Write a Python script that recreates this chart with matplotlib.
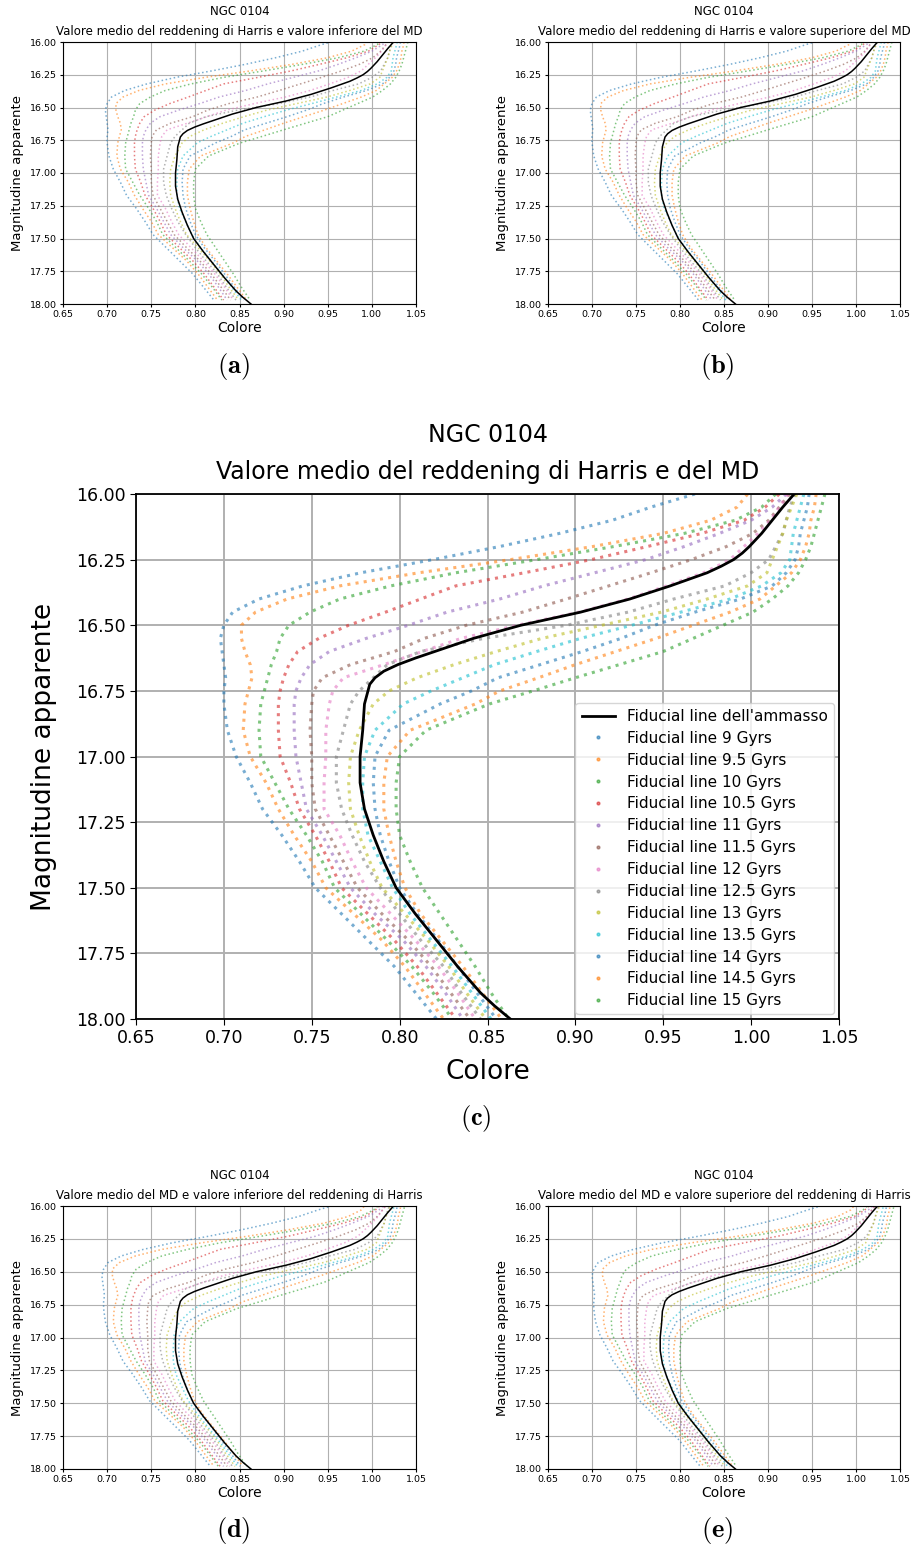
import matplotlib
matplotlib.use("Agg")
import matplotlib.pyplot as plt
from matplotlib.lines import Line2D
import numpy as np

# apparent magnitude grid
mag = [16.00, 16.05, 16.10, 16.15, 16.20, 16.25, 16.30, 16.35, 16.40, 16.45,
       16.50, 16.55, 16.60, 16.65, 16.70, 16.75, 16.80, 16.90, 17.00, 17.10,
       17.20, 17.30, 17.40, 17.50, 17.60, 17.70, 17.80, 17.90, 18.00]

ages = ["9", "9.5", "10", "10.5", "11", "11.5", "12", "12.5", "13", "13.5", "14", "14.5", "15"]

col_9 = [0.968, 0.943, 0.921, 0.891, 0.857, 0.819, 0.778, 0.745, 0.720, 0.705, 0.700, 0.698, 0.699, 0.700, 0.701,
         0.700, 0.700, 0.702, 0.707, 0.715, 0.722, 0.733, 0.743, 0.752, 0.767, 0.782, 0.797, 0.809, 0.821]
col_9_5 = [0.998, 0.992, 0.977, 0.950, 0.910, 0.863, 0.811, 0.766, 0.736, 0.718, 0.710, 0.710, 0.712, 0.715, 0.716,
           0.714, 0.712, 0.711, 0.715, 0.724, 0.731, 0.740, 0.750, 0.758, 0.774, 0.790, 0.803, 0.814, 0.825]
col_10 = [1.014, 1.006, 0.991, 0.962, 0.922, 0.878, 0.832, 0.795, 0.766, 0.749, 0.737, 0.732, 0.730, 0.727, 0.725,
          0.723, 0.721, 0.720, 0.721, 0.729, 0.737, 0.747, 0.756, 0.763, 0.778, 0.793, 0.807, 0.819, 0.830]
col_10_5 = [1.016, 1.008, 0.996, 0.972, 0.941, 0.909, 0.871, 0.832, 0.812, 0.792, 0.771, 0.754, 0.742, 0.737, 0.734,
            0.732, 0.731, 0.731, 0.732, 0.738, 0.743, 0.752, 0.760, 0.767, 0.782, 0.797, 0.810, 0.821, 0.832]
col_11 = [1.020, 1.012, 1.000, 0.982, 0.962, 0.940, 0.911, 0.882, 0.857, 0.827, 0.805, 0.781, 0.760, 0.749, 0.744,
          0.741, 0.740, 0.740, 0.741, 0.744, 0.747, 0.756, 0.764, 0.772, 0.786, 0.802, 0.815, 0.826, 0.836]
col_11_5 = [1.022, 1.016, 1.010, 1.001, 0.986, 0.966, 0.943, 0.919, 0.895, 0.870, 0.838, 0.814, 0.797, 0.772, 0.756,
            0.751, 0.750, 0.749, 0.750, 0.750, 0.752, 0.760, 0.768, 0.776, 0.790, 0.805, 0.818, 0.829, 0.840]
col_12 = [1.021, 1.016, 1.011, 1.004, 0.996, 0.988, 0.973, 0.952, 0.930, 0.902, 0.867, 0.835, 0.813, 0.791, 0.768,
          0.762, 0.760, 0.758, 0.758, 0.757, 0.757, 0.766, 0.773, 0.781, 0.795, 0.809, 0.822, 0.833, 0.843]
col_12_5 = [1.025, 1.022, 1.020, 1.018, 1.014, 1.010, 1.000, 0.985, 0.956, 0.930, 0.895, 0.848, 0.812, 0.793, 0.785,
            0.777, 0.772, 0.768, 0.764, 0.764, 0.767, 0.773, 0.780, 0.789, 0.800, 0.812, 0.825, 0.835, 0.846]
col_13 = [1.026, 1.023, 1.020, 1.018, 1.015, 1.012, 1.009, 0.998, 0.975, 0.949, 0.915, 0.881, 0.855, 0.831, 0.810,
          0.794, 0.785, 0.777, 0.772, 0.771, 0.772, 0.777, 0.783, 0.790, 0.803, 0.816, 0.828, 0.838, 0.849]
col_13_5 = [1.030, 1.028, 1.026, 1.024, 1.023, 1.022, 1.017, 1.006, 0.988, 0.960, 0.932, 0.903, 0.878, 0.854, 0.836,
            0.818, 0.802, 0.786, 0.780, 0.779, 0.779, 0.782, 0.789, 0.796, 0.806, 0.818, 0.830, 0.841, 0.852]
col_14 = [1.033, 1.032, 1.030, 1.028, 1.027, 1.025, 1.020, 1.012, 0.994, 0.968, 0.945, 0.926, 0.904, 0.880, 0.856,
          0.841, 0.823, 0.794, 0.786, 0.785, 0.786, 0.789, 0.794, 0.800, 0.810, 0.822, 0.833, 0.844, 0.855]
col_14_5 = [1.037, 1.036, 1.034, 1.033, 1.031, 1.028, 1.023, 1.014, 1.005, 0.988, 0.967, 0.946, 0.923, 0.900, 0.879,
            0.857, 0.843, 0.806, 0.793, 0.791, 0.791, 0.794, 0.798, 0.803, 0.812, 0.824, 0.836, 0.847, 0.858]
col_15 = [1.042, 1.040, 1.038, 1.036, 1.034, 1.031, 1.027, 1.021, 1.012, 1.001, 0.984, 0.967, 0.950, 0.925, 0.900,
          0.876, 0.851, 0.815, 0.800, 0.798, 0.798, 0.800, 0.806, 0.813, 0.823, 0.833, 0.843, 0.852, 0.862]

# observed cluster fiducial line (denser sampling)
fid_mag = [16.00, 16.05, 16.10, 16.15, 16.20, 16.225, 16.25, 16.275, 16.30, 16.35, 16.40, 16.45, 16.50, 16.55,
           16.60, 16.625, 16.65, 16.675, 16.70, 16.725, 16.75, 16.80, 16.90, 17.00, 17.10, 17.20, 17.30, 17.40,
           17.50, 17.60, 17.70, 17.80, 17.90, 17.95, 18.00]
fid_col = [1.0245, 1.018, 1.012, 1.006, 0.999, 0.995, 0.990, 0.983, 0.975, 0.954, 0.931, 0.903, 0.869, 0.842,
           0.820, 0.809, 0.799, 0.791, 0.786, 0.783, 0.782, 0.780, 0.779, 0.7775, 0.7775, 0.780, 0.785, 0.791,
           0.798, 0.809, 0.821, 0.833, 0.846, 0.854, 0.863]

isochrones = [col_9, col_9_5, col_10, col_10_5, col_11, col_11_5, col_12, col_12_5,
              col_13, col_13_5, col_14, col_14_5, col_15]

# (colour shift, magnitude shift) of the isochrones in each panel
shift_a = (0.0, -0.03)
shift_b = (0.0, -0.03)
shift_c = (0.0, 0.0)
shift_d = (-0.004, -0.02)
shift_e = (0.002, -0.02)

W, H = 913, 1549
fig = plt.figure(figsize=(W / 100, H / 100), dpi=100)


def add_ax(l, t, r, b):
    return fig.add_axes([l / W, 1 - b / H, (r - l) / W, (b - t) / H])


def draw(ax, subtitle, shift, big):
    dc, dm = shift
    lw = 2.2 if big else 1.1
    for i, col in enumerate(isochrones):
        ax.plot(np.array(col) + dc, np.array(mag) + dm, ls=(0, (1, 1.7)), lw=lw,
                color="C%d" % (i % 10), alpha=0.6)
    ax.plot(fid_col, fid_mag, color="k", lw=2.0 if big else 1.1, zorder=5)
    ax.set_xlim(0.65, 1.05)
    ax.set_ylim(18, 16)
    ax.set_xticks(np.arange(0.65, 1.0501, 0.05))
    ax.set_yticks(np.arange(16, 18.001, 0.25))
    ax.xaxis.set_major_formatter("{x:.2f}")
    ax.yaxis.set_major_formatter("{x:.2f}")
    ax.grid(True, color="#b0b0b0", lw=1.4 if big else 0.8)
    ax.set_axisbelow(True)
    if big:
        ax.tick_params(labelsize=12.5, length=4)
        ax.set_title("NGC 0104\n" + subtitle, fontsize=17, linespacing=1.65, pad=11)
        ax.set_xlabel("Colore", fontsize=19, labelpad=8)
        ax.set_ylabel("Magnitudine apparente", fontsize=19, labelpad=14)
        for s in ax.spines.values():
            s.set_linewidth(1.3)
    else:
        ax.tick_params(labelsize=6.8, length=2.5, pad=2)
        ax.set_title("NGC 0104\n" + subtitle, fontsize=8.5, linespacing=1.75, pad=5)
        ax.set_xlabel("Colore", fontsize=10, labelpad=1)
        ax.set_ylabel("Magnitudine apparente", fontsize=9.5, labelpad=4)


ax_a = add_ax(63, 42, 416, 304)
draw(ax_a, "Valore medio del reddening di Harris e valore inferiore del MD", shift_a, False)
ax_b = add_ax(548, 42, 900, 304)
draw(ax_b, "Valore medio del reddening di Harris e valore superiore del MD", shift_b, False)
ax_c = add_ax(136, 494, 839, 1019)
draw(ax_c, "Valore medio del reddening di Harris e del MD", shift_c, True)
ax_d = add_ax(63, 1206, 416, 1469)
draw(ax_d, "Valore medio del MD e valore inferiore del reddening di Harris", shift_d, False)
ax_e = add_ax(548, 1206, 900, 1469)
draw(ax_e, "Valore medio del MD e valore superiore del reddening di Harris", shift_e, False)

handles = [Line2D([], [], color="k", lw=2.0)]
for i in range(len(ages)):
    handles.append(Line2D([], [], ls="none", marker="o", ms=2, color="C%d" % (i % 10), alpha=0.6))
labels = ["Fiducial line dell'ammasso"] + ["Fiducial line %s Gyrs" % a for a in ages]
ax_c.legend(handles, labels, loc="lower right", fontsize=11, labelspacing=0.45,
            borderaxespad=0.3, handlelength=2.2)

for lab, x, y in [("a", 233, 367), ("b", 717, 367), ("c", 476, 1118), ("d", 233, 1531), ("e", 717, 1531)]:
    fig.text(x / W, 1 - y / H, r"$\mathbf{(%s)}$" % lab, fontsize=19, ha="center", va="center",
             math_fontfamily="cm")

fig.savefig("out.png", dpi=100)
